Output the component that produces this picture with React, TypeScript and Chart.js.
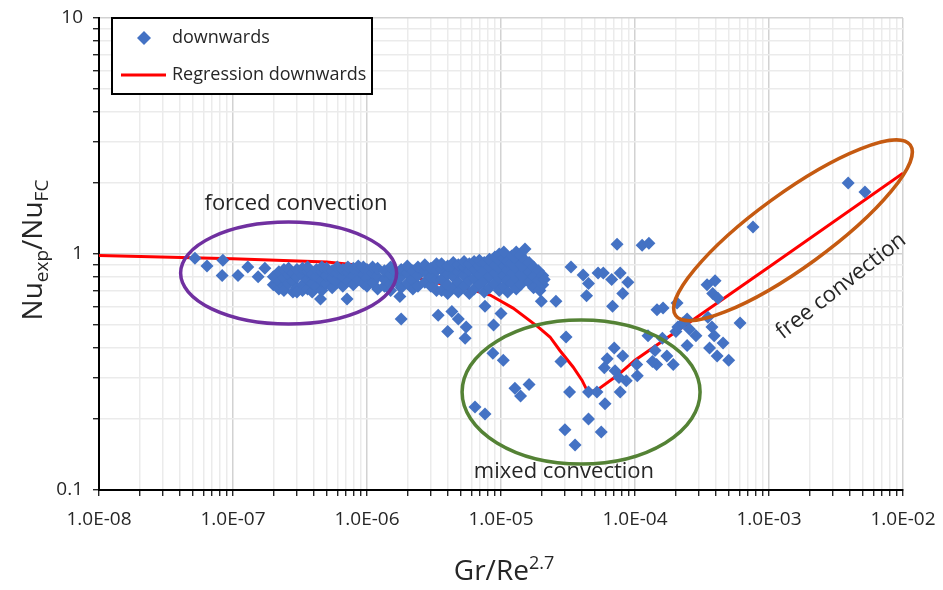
import React, { useEffect, useRef } from 'react';
import { Chart, registerables } from 'chart.js';

Chart.register(...registerables);

// ---------- axes ----------
const xDecades = [1e-8, 1e-7, 1e-6, 1e-5, 1e-4, 1e-3, 1e-2];
const xTickLabels = ['1.0E-08', '1.0E-07', '1.0E-06', '1.0E-05', '1.0E-04', '1.0E-03', '1.0E-02'];
const yDecades = [0.1, 1, 10];
const yTickLabels = ['0.1', '1', '10'];
const decadeMultiples = [1, 2, 3, 4, 5, 6, 7, 8, 9];

// ---------- data: downwards (measured points) ----------
const forcedX = [5.2e-8, 6.4e-8, 8.4e-8, 8.3e-8, 1.09e-7, 1.29e-7, 1.54e-7, 1.73e-7];
const forcedY = [0.96, 0.89, 0.94, 0.81, 0.81, 0.88, 0.80, 0.87];

const clusterX = [
  2.0e-7, 2.0e-7, 2.2e-7, 2.2e-7, 2.2e-7, 2.4e-7, 2.4e-7, 2.4e-7, 2.4e-7, 2.6e-7, 2.6e-7, 2.6e-7,
  2.8e-7, 2.8e-7, 2.8e-7, 3.0e-7, 3.0e-7, 3.0e-7, 3.0e-7, 3.3e-7, 3.3e-7, 3.3e-7, 3.3e-7,
  3.6e-7, 3.6e-7, 3.6e-7, 3.6e-7, 3.9e-7, 3.9e-7, 3.9e-7, 4.2e-7, 4.2e-7, 4.2e-7, 4.5e-7,
  4.6e-7, 4.6e-7, 4.6e-7, 4.6e-7, 5.0e-7, 5.0e-7, 5.0e-7, 5.5e-7, 5.5e-7, 5.5e-7,
  6.0e-7, 6.0e-7, 6.0e-7, 6.6e-7, 6.6e-7, 6.6e-7, 7.1e-7, 7.2e-7, 7.2e-7, 7.2e-7,
  7.9e-7, 7.9e-7, 7.9e-7, 8.6e-7, 8.6e-7, 8.6e-7, 9.4e-7, 9.4e-7, 9.4e-7,
  1.0e-6, 1.0e-6, 1.0e-6, 1.1e-6, 1.1e-6, 1.1e-6, 1.2e-6, 1.2e-6, 1.2e-6, 1.35e-6, 1.35e-6, 1.35e-6,
  1.5e-6, 1.5e-6, 1.5e-6, 1.5e-6, 1.65e-6, 1.65e-6, 1.76e-6, 1.8e-6, 1.8e-6, 1.8e-6, 1.8e-6,
  2.0e-6, 2.0e-6, 2.0e-6, 2.2e-6, 2.2e-6, 2.2e-6, 2.4e-6, 2.4e-6, 2.4e-6,
  2.7e-6, 2.7e-6, 2.7e-6, 3.0e-6, 3.0e-6, 3.0e-6, 3.3e-6, 3.3e-6, 3.3e-6, 3.3e-6,
  3.6e-6, 3.6e-6, 3.6e-6, 3.6e-6, 4.0e-6, 4.0e-6, 4.0e-6, 4.0e-6, 4.4e-6, 4.4e-6, 4.4e-6, 4.4e-6,
  4.8e-6, 4.8e-6, 4.8e-6, 4.8e-6, 5.3e-6, 5.3e-6, 5.3e-6, 5.3e-6, 5.8e-6, 5.8e-6, 5.8e-6, 5.8e-6,
  6.3e-6, 6.3e-6, 6.3e-6, 6.3e-6, 6.9e-6, 6.9e-6, 6.9e-6, 6.9e-6, 7.5e-6, 7.5e-6, 7.5e-6, 7.5e-6,
  8.2e-6, 8.2e-6, 8.2e-6, 8.2e-6, 9.0e-6, 9.0e-6, 9.0e-6, 9.0e-6, 9.7e-6, 9.7e-6, 9.7e-6, 9.7e-6, 9.7e-6,
  1.05e-5, 1.05e-5, 1.05e-5, 1.05e-5, 1.05e-5, 1.12e-5, 1.12e-5, 1.12e-5, 1.12e-5,
  1.2e-5, 1.2e-5, 1.2e-5, 1.2e-5, 1.3e-5, 1.3e-5, 1.3e-5, 1.3e-5, 1.3e-5,
  1.4e-5, 1.4e-5, 1.4e-5, 1.4e-5, 1.51e-5, 1.51e-5, 1.51e-5, 1.51e-5,
  1.62e-5, 1.62e-5, 1.62e-5, 1.75e-5, 1.75e-5, 1.75e-5, 1.9e-5, 1.9e-5, 1.95e-5, 2.05e-5, 2.05e-5, 2.1e-5,
];
const clusterY = [
  0.74, 0.80, 0.71, 0.77, 0.84, 0.73, 0.79, 0.86, 0.70, 0.75, 0.82, 0.87,
  0.69, 0.77, 0.83, 0.72, 0.80, 0.86, 0.69, 0.74, 0.81, 0.87, 0.70,
  0.71, 0.78, 0.84, 0.88, 0.69, 0.75, 0.82, 0.73, 0.80, 0.86, 0.645,
  0.70, 0.77, 0.84, 0.88, 0.75, 0.81, 0.87, 0.72, 0.79, 0.85,
  0.76, 0.83, 0.88, 0.73, 0.80, 0.86, 0.645, 0.77, 0.84, 0.88,
  0.74, 0.81, 0.87, 0.78, 0.85, 0.89, 0.75, 0.82, 0.88,
  0.79, 0.86, 0.73, 0.76, 0.83, 0.88, 0.80, 0.87, 0.71, 0.73, 0.78, 0.85,
  0.74, 0.82, 0.88, 0.70, 0.77, 0.84, 0.66, 0.53, 0.72, 0.80, 0.86,
  0.75, 0.83, 0.89, 0.78, 0.85, 0.71, 0.73, 0.81, 0.88,
  0.76, 0.84, 0.90, 0.73, 0.80, 0.87, 0.70, 0.78, 0.85, 0.91,
  0.70, 0.78, 0.86, 0.91, 0.68, 0.74, 0.82, 0.89, 0.72, 0.80, 0.87, 0.92,
  0.69, 0.76, 0.84, 0.90, 0.73, 0.81, 0.88, 0.93, 0.68, 0.77, 0.85, 0.91,
  0.71, 0.79, 0.86, 0.93, 0.74, 0.82, 0.89, 0.94, 0.69, 0.77, 0.85, 0.92,
  0.72, 0.80, 0.88, 0.95, 0.75, 0.83, 0.90, 0.97, 0.70, 0.79, 0.87, 0.94, 1.00,
  0.73, 0.81, 0.89, 0.96, 1.02, 0.69, 0.77, 0.85, 0.93,
  0.75, 0.83, 0.91, 0.98, 0.71, 0.79, 0.87, 0.95, 1.02,
  0.74, 0.82, 0.90, 0.99, 0.78, 0.86, 0.94, 1.05,
  0.76, 0.84, 0.92, 0.72, 0.80, 0.88, 0.77, 0.85, 0.70, 0.74, 0.81, 0.78,
];

const mixedX = [
  3.4e-6, 4.3e-6, 4.8e-6, 4.0e-6, 5.5e-6, 5.4e-6, 7.6e-6, 8.8e-6, 1.0e-5, 8.7e-6, 1.04e-5,
  1.27e-5, 1.4e-5, 1.62e-5, 6.4e-6, 7.6e-6, 2.0e-5, 2.57e-5, 3.33e-5, 3.06e-5, 2.8e-5, 3.25e-5,
  3.0e-5, 3.57e-5, 4.1e-5, 4.5e-5, 4.35e-5, 5.3e-5, 4.5e-5, 5.2e-5, 5.97e-5, 4.5e-5, 5.6e-5,
];
const mixedY = [
  0.55, 0.57, 0.53, 0.47, 0.49, 0.44, 0.60, 0.50, 0.56, 0.38, 0.355,
  0.27, 0.25, 0.28, 0.225, 0.21, 0.63, 0.63, 0.88, 0.445, 0.35, 0.26,
  0.18, 0.155, 0.815, 0.75, 0.665, 0.83, 0.26, 0.26, 0.232, 0.20, 0.176,
];

const freeX = [
  6.7e-5, 5.8e-5, 7.75e-5, 8.85e-5, 8.1e-5, 6.8e-5, 7.35e-5, 1.13e-4, 1.27e-4, 1.46e-4, 1.62e-4, 2.06e-4,
  7.0e-5, 8.1e-5, 6.2e-5, 5.9e-5, 7.1e-5, 7.6e-5, 1.03e-4, 1.04e-4, 8.6e-5, 7.75e-5,
  1.25e-4, 1.6e-4, 1.41e-4, 1.45e-4, 1.73e-4, 1.93e-4, 1.35e-4,
  2.02e-4, 2.09e-4, 2.28e-4, 2.45e-4, 2.55e-4, 2.85e-4, 2.45e-4,
  3.45e-4, 3.96e-4, 3.8e-4, 4.16e-4, 3.5e-4, 3.75e-4, 3.9e-4, 4.54e-4, 3.6e-4, 4.1e-4, 5.0e-4, 6.08e-4,
  7.6e-4, 3.9e-3, 5.2e-3,
];
const freeY = [
  0.78, 0.83, 0.83, 0.76, 0.68, 0.60, 1.10, 1.09, 1.11, 0.58, 0.59, 0.62,
  0.40, 0.37, 0.36, 0.33, 0.32, 0.30, 0.34, 0.305, 0.29, 0.26,
  0.45, 0.44, 0.39, 0.34, 0.37, 0.34, 0.35,
  0.47, 0.49, 0.51, 0.53, 0.48, 0.45, 0.41,
  0.74, 0.77, 0.68, 0.65, 0.54, 0.49, 0.45, 0.42, 0.40, 0.37, 0.355, 0.51,
  1.30, 2.0, 1.83,
];

// ---------- data: regression downwards ----------
const regressionX = [
  1e-8, 1e-7, 5e-7, 1e-6, 2.1e-6, 3e-6, 5.1e-6, 8.3e-6, 1.23e-5, 1.9e-5, 2.32e-5, 2.75e-5, 3.45e-5, 4.02e-5,
  4.45e-5, 5.2e-5, 7.45e-5, 1e-4, 1e-3, 1e-2,
];
const regressionY = [
  0.985, 0.955, 0.925, 0.89, 0.815, 0.76, 0.725, 0.67, 0.59, 0.49, 0.445, 0.39, 0.332, 0.292,
  0.26, 0.265, 0.307, 0.355, 0.88, 2.2,
];

// ---------- annotations (anchored in data space) ----------
const ellipseX = [2.6e-7, 3.96e-5, 1.51e-3];
const ellipseY = [0.83, 0.26, 1.26];
const ellipseLook = [
  { rx: 108, ry: 51, rot: 0, color: '#7030A0' },
  { rx: 119, ry: 72, rot: 0, color: '#548235' },
  { rx: 145, ry: 37, rot: -36, color: '#C55A11' },
];
const noteText = ['forced convection', 'mixed convection', 'free convection'];
const noteX = [2.95e-7, 2.95e-5, 3.45e-3];
const noteY = [1.63, 0.12, 0.73];
const noteRot = [0, 0, -38];

const FONT = "'Open Sans', 'Noto Sans', sans-serif";
const TEXT = '#262626';
const BLUE = '#4472C4';

const zip = (xs: number[], ys: number[]) => xs.map((x, i) => ({ x, y: ys[i] }));

const decadeIndex = (v: number, list: number[]) =>
  list.findIndex((d) => Math.abs(Math.log10(v) - Math.log10(d)) < 1e-6);

const buildTicks = (decades: number[]) => {
  const out: { value: number }[] = [];
  decades.forEach((d, i) => {
    if (i < decades.length - 1) decadeMultiples.forEach((m) => out.push({ value: d * m }));
    else out.push({ value: d });
  });
  return out;
};

const drawRich = (ctx: CanvasRenderingContext2D, parts: { t: string; small?: boolean; shift?: number }[], big: number, small: number) => {
  let total = 0;
  parts.forEach((p) => {
    ctx.font = `${p.small ? small : big}px ${FONT}`;
    total += ctx.measureText(p.t).width;
  });
  let x = -total / 2;
  parts.forEach((p) => {
    ctx.font = `${p.small ? small : big}px ${FONT}`;
    ctx.fillText(p.t, x, p.shift || 0);
    x += ctx.measureText(p.t).width;
  });
};

const overlayPlugin = {
  id: 'overlay',
  afterDatasetsDraw(chart: any) {
    const { ctx, scales } = chart;
    const xs = scales.x;
    const ys = scales.y;
    ctx.save();
    ellipseX.forEach((ex, i) => {
      const look = ellipseLook[i];
      const cx = xs.getPixelForValue(ex);
      const cy = ys.getPixelForValue(ellipseY[i]);
      ctx.beginPath();
      ctx.ellipse(cx, cy, look.rx, look.ry, (look.rot * Math.PI) / 180, 0, Math.PI * 2);
      ctx.lineWidth = 3.5;
      ctx.strokeStyle = look.color;
      ctx.stroke();
    });
    noteText.forEach((t, i) => {
      const px = xs.getPixelForValue(noteX[i]);
      const py = ys.getPixelForValue(noteY[i]);
      ctx.save();
      ctx.translate(px, py);
      ctx.rotate((noteRot[i] * Math.PI) / 180);
      ctx.font = `22px ${FONT}`;
      ctx.fillStyle = TEXT;
      ctx.textAlign = 'center';
      ctx.textBaseline = 'middle';
      ctx.fillText(t, 0, 0);
      ctx.restore();
    });
    ctx.restore();
  },
  afterDraw(chart: any) {
    const { ctx, chartArea } = chart;
    ctx.save();
    // legend box
    const lx = chartArea.left + 13;
    const ly = chartArea.top;
    ctx.fillStyle = '#ffffff';
    ctx.fillRect(lx, ly, 260, 76);
    ctx.strokeStyle = '#000000';
    ctx.lineWidth = 2;
    ctx.strokeRect(lx, ly, 260, 76);
    ctx.fillStyle = BLUE;
    ctx.beginPath();
    const dx = lx + 32;
    const dy = ly + 20;
    ctx.moveTo(dx - 7, dy);
    ctx.lineTo(dx, dy - 7);
    ctx.lineTo(dx + 7, dy);
    ctx.lineTo(dx, dy + 7);
    ctx.closePath();
    ctx.fill();
    ctx.strokeStyle = '#FF0000';
    ctx.lineWidth = 3;
    ctx.beginPath();
    ctx.moveTo(lx + 9, ly + 57);
    ctx.lineTo(lx + 54, ly + 57);
    ctx.stroke();
    ctx.fillStyle = TEXT;
    ctx.font = `18px ${FONT}`;
    ctx.textAlign = 'left';
    ctx.textBaseline = 'middle';
    ctx.fillText('downwards', lx + 60, dy);
    ctx.fillText('Regression downwards', lx + 60, ly + 57);

    // axis titles
    ctx.fillStyle = TEXT;
    ctx.textAlign = 'left';
    ctx.textBaseline = 'alphabetic';
    ctx.save();
    ctx.translate((chartArea.left + chartArea.right) / 2 + 3, 580);
    drawRich(ctx, [{ t: 'Gr/Re' }, { t: '2.7', small: true, shift: -11 }], 28, 18);
    ctx.restore();
    ctx.save();
    ctx.translate(42, (chartArea.top + chartArea.bottom) / 2 - 4);
    ctx.rotate(-Math.PI / 2);
    drawRich(
      ctx,
      [{ t: 'Nu' }, { t: 'exp', small: true, shift: 6 }, { t: '/Nu' }, { t: 'FC', small: true, shift: 6 }],
      28,
      19
    );
    ctx.restore();
    ctx.restore();
  },
};

export default function App() {
  const ref = useRef<HTMLCanvasElement>(null);
  useEffect(() => {
    const canvas = ref.current;
    if (!canvas) return;
    const downData = [
      ...zip(forcedX, forcedY),
      ...zip(clusterX, clusterY),
      ...zip(mixedX, mixedY),
      ...zip(freeX, freeY),
    ];
    const gridColor = (list: number[]) => (c: any) =>
      c.tick && decadeIndex(c.tick.value, list) >= 0 ? '#d2d2d2' : '#ebebeb';
    const chart = new Chart(canvas, {
      type: 'scatter',
      data: {
        datasets: [
          {
            label: 'downwards',
            data: downData,
            pointStyle: 'rectRot',
            pointRadius: 6.5,
            pointBackgroundColor: BLUE,
            pointBorderColor: BLUE,
            pointBorderWidth: 0,
            order: 1,
          },
          {
            label: 'Regression downwards',
            data: zip(regressionX, regressionY),
            showLine: true,
            borderColor: '#FF0000',
            borderWidth: 3,
            pointRadius: 0,
            tension: 0,
            order: 2,
          },
        ],
      },
      options: {
        animation: false,
        responsive: false,
        events: [],
        layout: { padding: { top: 18, right: 40, left: 0, bottom: 0 } },
        plugins: { legend: { display: false }, tooltip: { enabled: false } },
        scales: {
          x: {
            type: 'logarithmic',
            min: 1e-8,
            max: 1e-2,
            afterBuildTicks: (s: any) => {
              s.ticks = buildTicks(xDecades);
            },
            afterFit: (s: any) => {
              s.height = 100;
              s.paddingLeft = 0;
              s.paddingRight = 0;
            },
            ticks: {
              autoSkip: false,
              maxRotation: 0,
              minRotation: 0,
              padding: 12,
              color: TEXT,
              font: { family: FONT, size: 19 },
              callback: (v: any) => {
                const i = decadeIndex(Number(v), xDecades);
                return i >= 0 ? xTickLabels[i] : '';
              },
            },
            grid: {
              color: gridColor(xDecades),
              lineWidth: 1.5,
              drawTicks: true,
              tickLength: 6,
              tickColor: '#000',
              tickWidth: 1.2,
            },
            border: { color: '#000', width: 2 },
          },
          y: {
            type: 'logarithmic',
            min: 0.1,
            max: 10,
            afterBuildTicks: (s: any) => {
              s.ticks = buildTicks(yDecades);
            },
            afterFit: (s: any) => {
              s.width = 99;
              s.paddingTop = 0;
              s.paddingBottom = 0;
            },
            ticks: {
              autoSkip: false,
              padding: 10,
              color: TEXT,
              font: { family: FONT, size: 19 },
              callback: (v: any) => {
                const i = decadeIndex(Number(v), yDecades);
                return i >= 0 ? yTickLabels[i] : '';
              },
            },
            grid: {
              color: gridColor(yDecades),
              lineWidth: 1.5,
              drawTicks: true,
              tickLength: 6,
              tickColor: '#000',
              tickWidth: 1.2,
            },
            border: { color: '#000', width: 2 },
          },
        },
      },
      plugins: [overlayPlugin],
    } as any);
    return () => chart.destroy();
  }, []);
  return (
    <div style={{ position: 'absolute', left: 0, top: 0, width: 943, height: 590, background: '#fff' }}>
      <canvas ref={ref} width={943} height={590} style={{ display: 'block', width: 943, height: 590 }} />
    </div>
  );
}
